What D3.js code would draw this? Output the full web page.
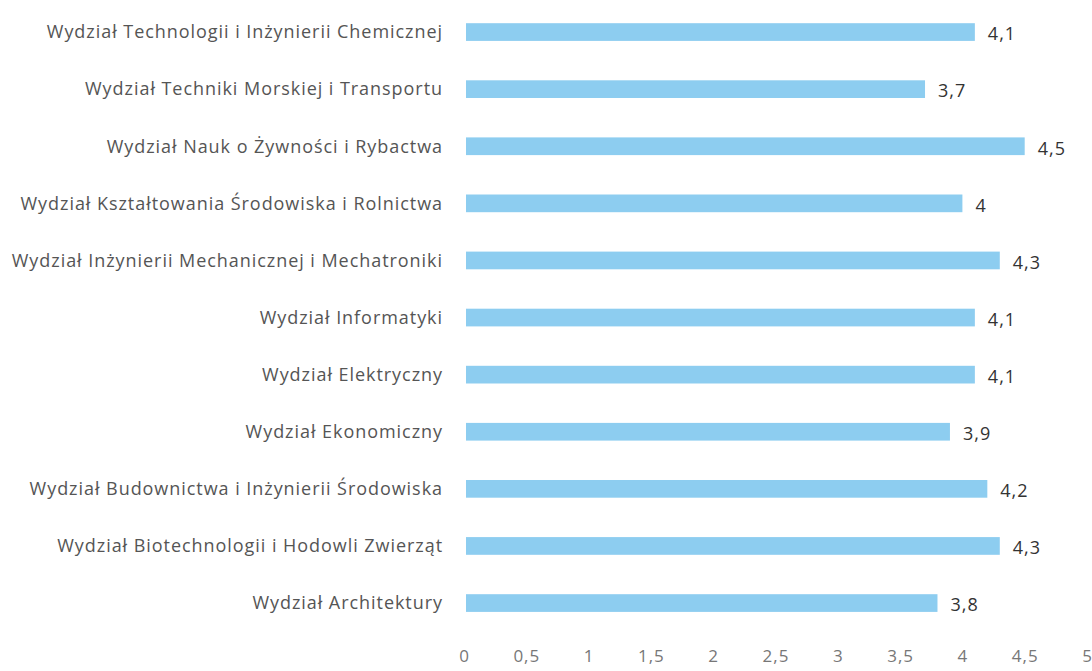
<!DOCTYPE html>
<html>
<head>
<meta charset="utf-8">
<script src="https://cdn.jsdelivr.net/npm/d3@7"></script>
<style>
  body { margin: 0; background: #fff; }
  svg { display: block; }
  text { font-family: "Open Sans", "Liberation Sans", sans-serif; }
</style>
</head>
<body>
<svg id="chart" width="1092" height="671"></svg>
<script>
const categories = [
    "Wydział Technologii i Inżynierii Chemicznej",
    "Wydział Techniki Morskiej i Transportu",
    "Wydział Nauk o Żywności i Rybactwa",
    "Wydział Kształtowania Środowiska i Rolnictwa",
    "Wydział Inżynierii Mechanicznej i Mechatroniki",
    "Wydział Informatyki",
    "Wydział Elektryczny",
    "Wydział Ekonomiczny",
    "Wydział Budownictwa i Inżynierii Środowiska",
    "Wydział Biotechnologii i Hodowli Zwierząt",
    "Wydział Architektury"
];
const values = [4.1, 3.7, 4.5, 4.0, 4.3, 4.1, 4.1, 3.9, 4.2, 4.3, 3.8];
const tickValues = [0, 0.5, 1, 1.5, 2, 2.5, 3, 3.5, 4, 4.5, 5];

const fmt = v => String(v).replace('.', ',');

const svg = d3.select('#chart');

const x = d3.scaleLinear()
    .domain([0, 5])
    .range([464, 1087]);

const y = d3.scaleBand()
    .domain(categories)
    .range([3.5, 631.6])
    .paddingInner(0.69)
    .paddingOuter(0.345);

const rows = categories.map((c, i) => ({name: c, value: values[i]}));

// bars
svg.append('g')
    .selectAll('rect')
    .data(rows)
    .enter()
    .append('rect')
    .attr('x', x(0) + 2)
    .attr('y', d => y(d.name))
    .attr('width', d => x(d.value) - x(0) - 2)
    .attr('height', y.bandwidth())
    .attr('fill', '#8dcdf0');

// category labels
svg.append('g')
    .selectAll('text')
    .data(rows)
    .enter()
    .append('text')
    .attr('x', 443)
    .attr('y', d => y(d.name) + y.bandwidth() / 2)
    .attr('dy', '0.35em')
    .attr('text-anchor', 'end')
    .attr('font-size', 18)
    .attr('letter-spacing', 0.95)
    .attr('fill', '#555')
    .text(d => d.name);

// value labels
svg.append('g')
    .selectAll('text')
    .data(rows)
    .enter()
    .append('text')
    .attr('x', d => x(d.value) + 13)
    .attr('y', d => y(d.name) + y.bandwidth() / 2 + 2)
    .attr('dy', '0.35em')
    .attr('font-size', 18)
    .attr('letter-spacing', 1)
    .attr('fill', '#333')
    .text(d => fmt(d.value));

// x axis (labels only)
const axis = svg.append('g')
    .attr('transform', 'translate(0,646)')
    .call(d3.axisBottom(x).tickValues(tickValues).tickFormat(fmt).tickSize(0).tickPadding(4));
axis.select('.domain').remove();
axis.selectAll('text')
    .attr('font-size', 17)
    .attr('letter-spacing', 1)
    .attr('font-family', '"Open Sans", "Liberation Sans", sans-serif')
    .attr('fill', '#777');
</script>
</body>
</html>
